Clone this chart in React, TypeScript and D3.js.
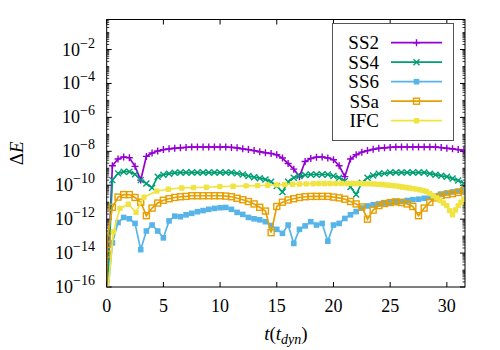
import React, { useMemo } from 'react';
import * as d3 from 'd3';

const WIDTH = 500;
const HEIGHT = 350;
const PLOT = { left: 106.7, right: 465, top: 19.5, bottom: 287 };
const FONT = '"Liberation Serif"';

const X_DOMAIN = [0, 31.6];
const Y_DOMAIN = [1e-16, 0.59];
const X_TICKS = [0, 5, 10, 15, 20, 25, 30];
const Y_TICK_EXPONENTS = [-16, -14, -12, -10, -8, -6, -4, -2];

// output times of the fixed-step runs (SS2, SS4, SS6)
const GRID_T = [
  0, 0.5, 1, 1.5, 2, 2.5, 3, 3.5, 4, 4.5, 5, 5.5, 6, 6.5, 7, 7.5,
  8, 8.5, 9, 9.5, 10, 10.5, 11, 11.5, 12, 12.5, 13, 13.5, 14, 14.5, 15, 15.5,
  16, 16.5, 17, 17.5, 18, 18.5, 19, 19.5, 20, 20.5, 21, 21.5, 22, 22.5, 23, 23.5,
  24, 24.5, 25, 25.5, 26, 26.5, 27, 27.5, 28, 28.5, 29, 29.5, 30, 30.5, 31, 31.5,
];

const SS2 = [
  1e-17, 1.4e-9, 3.5e-9, 4.6e-9, 4.2e-9, 1.3e-9, 2.0e-10, 5.0e-9, 7.9e-9, 1.05e-8, 1.26e-8, 1.4e-8, 1.5e-8, 1.6e-8, 1.7e-8,
  1.8e-8, 1.8e-8, 1.8e-8, 1.8e-8, 1.8e-8, 1.8e-8, 1.8e-8,
  1.7e-8, 1.6e-8, 1.4e-8, 1.26e-8, 1.1e-8, 9.5e-9, 8.3e-9, 7.4e-9, 6.3e-9, 4.0e-9, 1.9e-9, 8.9e-10, 3.2e-10, 2.5e-9,
  3.8e-9, 4.5e-9, 4.6e-9, 4.0e-9, 3.2e-9, 1.4e-9, 3.2e-10, 3.5e-9, 6.3e-9, 8.9e-9, 1.1e-8, 1.3e-8, 1.5e-8, 1.6e-8, 1.7e-8,
  1.8e-8, 1.8e-8, 1.8e-8, 1.8e-8, 1.8e-8, 1.8e-8, 1.8e-8, 1.8e-8,
  1.65e-8, 1.5e-8, 1.4e-8, 1.26e-8, 1.15e-8,
];

const SS4 = [
  1e-17, 2.0e-10, 5.0e-10, 6.3e-10, 6.3e-10, 4.5e-10, 2.0e-10, 1.26e-10, 7.1e-11, 3.2e-10, 4.2e-10, 4.8e-10, 5.4e-10,
  5.6e-10, 5.6e-10, 5.6e-10, 5.6e-10, 5.6e-10, 5.6e-10, 5.6e-10, 5.6e-10, 5.6e-10, 5.6e-10,
  5.0e-10, 4.3e-10, 3.5e-10, 3.0e-10, 2.6e-10, 2.2e-10, 1.6e-10, 8.9e-11, 4.0e-11, 1.6e-10, 2.8e-10, 3.5e-10, 4.0e-10,
  4.3e-10, 4.3e-10, 4.3e-10, 4.3e-10,
  3.5e-10, 2.8e-10, 1.8e-10, 7.9e-11, 2.8e-11, 1.4e-10, 2.8e-10, 3.8e-10, 4.7e-10, 5.0e-10,
  5.6e-10, 5.6e-10, 5.6e-10, 5.6e-10, 5.6e-10, 5.6e-10, 5.6e-10,
  4.8e-10, 4.2e-10, 3.6e-10, 3.2e-10, 2.5e-10, 1.9e-10, 1.3e-10,
];

const SS6 = [
  1e-17, 4.0e-14, 6.3e-13, 1.26e-12, 1.05e-12, 5.6e-13, 1.6e-14, 2.0e-13, 4.5e-13, 2.0e-13, 7.9e-14, 7.9e-13, 1.5e-12,
  1.4e-12, 1.8e-12, 2.2e-12, 2.75e-12, 3.2e-12, 3.8e-12, 4.3e-12, 4.7e-12, 4.9e-12, 3.8e-12, 2.5e-12, 1.9e-12,
  1.26e-12, 1.05e-12, 9.1e-13, 7.1e-13, 4.2e-13, 2.5e-13, 1.45e-13, 4.5e-13, 3.7e-14, 2.5e-13, 4.0e-13, 7.1e-13,
  4.5e-13, 5.6e-13, 5.0e-14, 4.5e-13, 5.6e-13, 1.1e-12, 1.8e-12, 2.8e-12, 4.5e-12, 6.0e-12, 7.1e-12, 7.9e-12,
  8.9e-12, 9.5e-12, 1.05e-11, 1.1e-11, 1.26e-11, 1.4e-11, 1.5e-11, 1.7e-11, 1.9e-11, 2.4e-11, 3.0e-11, 3.5e-11,
  4.0e-11, 4.5e-11, 5.0e-11,
];

// SSa writes a few extra outputs right after the start
const SSA_T = [
  0, 0.02, 0.04, 0.06, 0.5, 1, 1.5, 2, 2.5, 3, 3.5, 4, 4.5, 5, 5.5, 6, 6.5, 7, 7.5,
  8, 8.5, 9, 9.5, 10, 10.5, 11, 11.5, 12, 12.5, 13, 13.5, 14, 14.5, 15, 15.5,
  16, 16.5, 17, 17.5, 18, 18.5, 19, 19.5, 20, 20.5, 21, 21.5, 22, 22.5, 23, 23.5,
  24, 24.5, 25, 25.5, 26, 26.5, 27, 27.5, 28, 28.5, 29, 29.5, 30, 30.5, 31, 31.5,
];

const SSA = [
  1e-17, 8.7e-15, 3.2e-14, 7.2e-14,
  5.0e-12, 2.0e-11, 2.8e-11, 2.8e-11, 1.9e-11, 1.0e-11, 1.6e-12, 4.5e-12, 8.9e-12, 1.3e-11, 1.6e-11, 1.9e-11, 2.1e-11, 2.2e-11,
  2.4e-11, 2.4e-11, 2.4e-11, 2.4e-11, 2.4e-11, 2.4e-11,
  2.3e-11, 2.1e-11, 1.7e-11, 1.4e-11, 1.1e-11, 7.9e-12, 5.0e-12, 3.0e-12, 1.6e-13, 5.6e-12, 1.0e-11, 1.35e-11, 1.6e-11, 1.9e-11, 2.1e-11,
  2.2e-11, 2.2e-11, 2.2e-11, 2.2e-11,
  2.0e-11, 1.8e-11, 1.5e-11, 1.1e-11, 7.9e-12, 5.2e-12, 1.0e-12, 3.4e-12, 6.3e-12, 8.3e-12, 9.5e-12, 1.05e-11,
  9.5e-12, 7.9e-12, 5.6e-12, 1.6e-12, 4.5e-12, 1.0e-11, 1.8e-11, 2.5e-11, 2.8e-11, 3.2e-11, 3.8e-11, 4.8e-11,
];

// IFC uses an adaptive step that shrinks late in the run
const IFC_T = [
  0, 0.59, 1.17, 1.91, 2.59, 3.29, 4.41, 5.44, 6.62, 7.65, 8.8, 9.98, 11.15, 12.3,
  13.3, 14.2, 15.0, 15.7, 16.4, 17.0, 17.6, 18.2,
  18.7, 19.2, 19.7, 20.2, 20.7, 21.2, 21.6, 22.0,
  22.4, 22.8, 23.2, 23.6, 24.0, 24.3, 24.6, 24.9, 25.2, 25.5, 25.8, 26.1, 26.4, 26.7, 27.0, 27.3, 27.6, 27.9,
  28.2, 28.5, 28.8, 29.1, 29.4, 29.7, 30.0,
  30.25, 30.5, 30.75, 31.0, 31.25, 31.5,
];

const IFC = [
  1e-17, 1.8e-13, 4.3e-12, 7.6e-12, 2.5e-12, 2.0e-11, 4.5e-11, 5.8e-11, 6.9e-11, 7.2e-11, 7.6e-11, 8.3e-11, 8.7e-11, 9.1e-11,
  9.5e-11, 1.0e-10, 1.05e-10, 1.1e-10, 1.15e-10, 1.17e-10, 1.2e-10, 1.23e-10,
  1.26e-10, 1.26e-10, 1.26e-10, 1.26e-10, 1.26e-10, 1.26e-10, 1.26e-10, 1.26e-10,
  1.26e-10, 1.23e-10, 1.2e-10, 1.17e-10, 1.12e-10, 1.1e-10, 1.05e-10, 1.0e-10, 9.5e-11, 9.1e-11, 8.5e-11, 7.9e-11,
  7.4e-11, 6.9e-11, 6.3e-11, 5.9e-11, 5.4e-11, 4.9e-11,
  4.3e-11, 3.2e-11, 2.4e-11, 1.8e-11, 1.26e-11, 8.9e-12, 6.3e-12,
  3.2e-12, 1.8e-12, 3.5e-12, 6.3e-12, 1.0e-11, 1.6e-11,
];

const SERIES = [
  { key: 'SS2', t: GRID_T, v: SS2, color: '#9400d3', marker: 'plus' },
  { key: 'SS4', t: GRID_T, v: SS4, color: '#009e73', marker: 'cross' },
  { key: 'SS6', t: GRID_T, v: SS6, color: '#56b4e9', marker: 'fsquare' },
  { key: 'SSa', t: SSA_T, v: SSA, color: '#e69f00', marker: 'osquare' },
  { key: 'IFC', t: IFC_T, v: IFC, color: '#f0e442', marker: 'dot' },
];

function Marker({ kind, x, y, color }: { kind: string; x: number; y: number; color: string }) {
  if (kind === 'plus') {
    return <path d={`M${x - 3.5},${y}H${x + 3.5}M${x},${y - 3.5}V${y + 3.5}`} stroke={color} strokeWidth={1.4} />;
  }
  if (kind === 'cross') {
    return <path d={`M${x - 3},${y - 3}L${x + 3},${y + 3}M${x - 3},${y + 3}L${x + 3},${y - 3}`} stroke={color} strokeWidth={1.4} />;
  }
  if (kind === 'fsquare') {
    return <rect x={x - 2.8} y={y - 2.8} width={5.6} height={5.6} fill={color} />;
  }
  if (kind === 'osquare') {
    return <rect x={x - 3} y={y - 3} width={6} height={6} fill="none" stroke={color} strokeWidth={1.4} />;
  }
  return <rect x={x - 2.7} y={y - 2.7} width={5.4} height={5.4} rx={1} fill={color} />;
}

export default function App() {
  const { x, y, lines, minorTicks } = useMemo(() => {
    const x = d3.scaleLinear().domain(X_DOMAIN).range([PLOT.left, PLOT.right]);
    const y = d3.scaleLog().domain(Y_DOMAIN).range([PLOT.bottom, PLOT.top]);
    const lines = SERIES.map((s) => {
      const pts = s.t.map((t, i) => [t, s.v[i]] as [number, number]);
      const line = d3
        .line<[number, number]>()
        .x((d) => x(d[0]))
        .y((d) => y(d[1]));
      return { ...s, pts, d: line(pts) ?? '' };
    });
    const minorTicks: number[] = [];
    for (let e = -16; e < 0; e++) {
      for (let k = 1; k < 10; k++) {
        const v = k * Math.pow(10, e);
        if (v < Y_DOMAIN[0] || v > Y_DOMAIN[1]) continue;
        if (k === 1 && e % 2 === 0) continue;
        minorTicks.push(v);
      }
    }
    return { x, y, lines, minorTicks };
  }, []);

  const legendRowY = (i: number) => 42.7 + i * 19.5;
  const textStyle = { fontFamily: FONT };

  return (
    <svg width={WIDTH} height={HEIGHT} style={{ position: 'absolute', left: 0, top: 0, background: '#fff' }}>
      <defs>
        <clipPath id="plot-clip">
          <rect x={PLOT.left} y={PLOT.top} width={PLOT.right - PLOT.left} height={PLOT.bottom - PLOT.top} />
        </clipPath>
      </defs>

      {/* ticks, drawn inward on all four sides */}
      <g stroke="#000" strokeWidth={1}>
        {X_TICKS.map((t) => (
          <g key={`xt-${t}`}>
            <line x1={x(t)} x2={x(t)} y1={PLOT.bottom} y2={PLOT.bottom - 5} />
            <line x1={x(t)} x2={x(t)} y1={PLOT.top} y2={PLOT.top + 5} />
          </g>
        ))}
        {Y_TICK_EXPONENTS.map((e) => (
          <g key={`yt-${e}`}>
            <line x1={PLOT.left} x2={PLOT.left + 5} y1={y(Math.pow(10, e))} y2={y(Math.pow(10, e))} />
            <line x1={PLOT.right} x2={PLOT.right - 5} y1={y(Math.pow(10, e))} y2={y(Math.pow(10, e))} />
          </g>
        ))}
        {minorTicks.map((v, i) => (
          <g key={`ym-${i}`} strokeWidth={0.8}>
            <line x1={PLOT.left} x2={PLOT.left + 2.5} y1={y(v)} y2={y(v)} />
            <line x1={PLOT.right} x2={PLOT.right - 2.5} y1={y(v)} y2={y(v)} />
          </g>
        ))}
      </g>

      <g clipPath="url(#plot-clip)">
        {lines.map((s) => (
          <g key={s.key}>
            <path d={s.d} fill="none" stroke={s.color} strokeWidth={1.7} />
            {s.pts.map((p, i) => (
              <Marker key={i} kind={s.marker} x={x(p[0])} y={y(p[1])} color={s.color} />
            ))}
          </g>
        ))}
      </g>

      <rect
        x={PLOT.left}
        y={PLOT.top}
        width={PLOT.right - PLOT.left}
        height={PLOT.bottom - PLOT.top}
        fill="none"
        stroke="#000"
        strokeWidth={1}
      />

      {X_TICKS.map((t) => (
        <text key={`xl-${t}`} x={x(t)} y={312} textAnchor="middle" fontSize={18} style={textStyle}>
          {t}
        </text>
      ))}
      {Y_TICK_EXPONENTS.map((e) => (
        <text key={`yl-${e}`} x={95} y={y(Math.pow(10, e)) + 6} textAnchor="end" fontSize={18} style={textStyle}>
          10
          <tspan dy={-8} fontSize={14}>
            {`\u2212${-e}`}
          </tspan>
        </text>
      ))}

      <text x={(PLOT.left + PLOT.right) / 2} y={340} textAnchor="middle" fontSize={19} style={textStyle}>
        <tspan fontStyle="italic">t</tspan>(<tspan fontStyle="italic">t</tspan>
        <tspan fontStyle="italic" fontSize={14} dy={4}>dyn</tspan>
        <tspan dy={-4}>)</tspan>
      </text>
      <text
        transform={`translate(23, ${(PLOT.top + PLOT.bottom) / 2}) rotate(-90)`}
        textAnchor="middle"
        fontSize={19}
        style={textStyle}
      >
        Δ<tspan fontStyle="italic">E</tspan>
      </text>

      <g>
        <rect x={332.5} y={23.5} width={121} height={117} fill="#fff" stroke="#555" strokeWidth={1} />
        {SERIES.map((s, i) => (
          <g key={`lg-${s.key}`}>
            <text x={379} y={legendRowY(i) + 6.5} textAnchor="end" fontSize={19} style={textStyle}>
              {s.key}
            </text>
            <line x1={391} x2={442} y1={legendRowY(i)} y2={legendRowY(i)} stroke={s.color} strokeWidth={1.7} />
            <Marker kind={s.marker} x={416.5} y={legendRowY(i)} color={s.color} />
          </g>
        ))}
      </g>
    </svg>
  );
}
